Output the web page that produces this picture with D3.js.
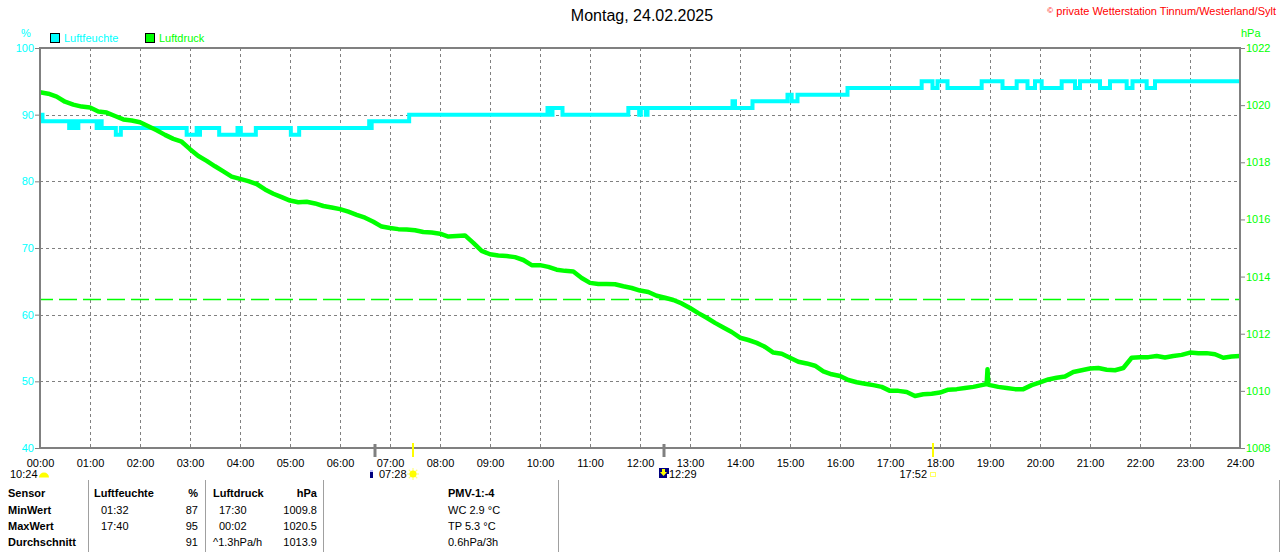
<!DOCTYPE html>
<html>
<head>
<meta charset="utf-8">
<script src="https://cdn.jsdelivr.net/npm/d3@7"></script>
<style>
  html, body { margin: 0; padding: 0; background: #fff; }
  svg { display: block; font-family: "Liberation Sans", Arial, sans-serif; }
</style>
</head>
<body>
<svg id="chart" width="1280" height="552"></svg>
<script>
// ---------------- DATA ----------------
const title = "Montag, 24.02.2025";
const copyright = "private Wetterstation Tinnum/Westerland/Sylt";
const seriesNames = ["Luftfeuchte", "Luftdruck"];

const hourTicks = ["00:00","01:00","02:00","03:00","04:00","05:00","06:00","07:00","08:00","09:00","10:00","11:00","12:00",
  "13:00","14:00","15:00","16:00","17:00","18:00","19:00","20:00","21:00","22:00","23:00","24:00"];
const humTicks = [40, 50, 60, 70, 80, 90, 100];
const pressTicks = [1008, 1010, 1012, 1014, 1016, 1018, 1020, 1022];
const pressReference = 1013.2;

// Luftfeuchte (step values, %)
const humTimes = ["00:00","00:03","00:35","00:39","00:43","00:46","01:08","01:11","01:14","01:31","01:37","02:56",
  "03:08","03:10","03:12","03:35","03:57","04:01","04:19","05:01","05:11","06:35","06:37","06:38","07:23",
  "10:09","10:13","10:15","10:27","11:46","11:59","12:01","12:07","12:09","13:51","13:54","14:15","14:57","15:02",
  "15:09","16:09","17:38","17:51","17:57","18:09","18:50","19:15","19:32","19:45","19:54","20:02","20:26","20:42",
  "20:48","21:12","21:24","21:44","21:51","22:08","22:18","24:00"];
const humValues = [90,89,88,89,88,89,88,89,88,87,88,87,
  88,87,88,87,88,87,88,87,88,89,88,89,90,
  91,90,91,90,91,90,91,90,91,92,91,92,93,92,
  93,94,95,94,95,94,95,94,95,94,95,94,95,94,
  95,94,95,94,95,94,95,95];

// Luftdruck (hPa)
const pressTimes = ["00:00","00:10","00:20","00:30","00:40","00:50","01:00","01:10","01:20","01:30","01:40","01:50",
  "02:00","02:10","02:20","02:30","02:40","02:50","03:00","03:10","03:20","03:30","03:40","03:50",
  "04:00","04:10","04:20","04:30","04:40","04:50","05:00","05:10","05:20","05:30","05:40","05:50",
  "06:00","06:10","06:20","06:30","06:40","06:50","07:00","07:10","07:20","07:30","07:40","07:50",
  "08:00","08:10","08:20","08:30","08:40","08:50","09:00","09:10","09:20","09:30","09:40","09:50",
  "10:00","10:10","10:20","10:30","10:40","10:50","11:00","11:10","11:20","11:30","11:40","11:50",
  "12:00","12:10","12:20","12:30","12:40","12:50","13:00","13:10","13:20","13:30","13:40","13:50",
  "14:00","14:10","14:20","14:30","14:40","14:50","15:00","15:10","15:20","15:30","15:40","15:50",
  "16:00","16:10","16:20","16:30","16:40","16:50","17:00","17:10","17:20","17:30","17:40","17:50",
  "18:00","18:10","18:20","18:30","18:40","18:50","18:56","18:57","18:58","19:00","19:10","19:20","19:30","19:40","19:50",
  "20:00","20:10","20:20","20:30","20:40","20:50","21:00","21:10","21:20","21:30","21:40","21:50",
  "22:00","22:10","22:20","22:30","22:40","22:50","23:00","23:10","23:20","23:30","23:40","23:50","24:00"];
const pressValues = [1020.45,1020.40,1020.30,1020.12,1020.02,1019.95,1019.92,1019.78,1019.74,1019.62,1019.50,1019.46,
  1019.40,1019.26,1019.12,1018.96,1018.82,1018.72,1018.46,1018.22,1018.05,1017.86,1017.68,1017.50,
  1017.42,1017.34,1017.24,1017.05,1016.90,1016.78,1016.66,1016.60,1016.62,1016.56,1016.47,1016.42,
  1016.36,1016.27,1016.16,1016.06,1015.92,1015.75,1015.70,1015.66,1015.65,1015.62,1015.56,1015.54,
  1015.50,1015.40,1015.42,1015.44,1015.18,1014.90,1014.78,1014.74,1014.72,1014.68,1014.58,1014.40,
  1014.40,1014.34,1014.24,1014.20,1014.18,1013.95,1013.78,1013.74,1013.74,1013.73,1013.66,1013.60,
  1013.51,1013.46,1013.33,1013.26,1013.18,1013.06,1012.90,1012.72,1012.56,1012.38,1012.22,1012.06,
  1011.86,1011.78,1011.68,1011.54,1011.34,1011.30,1011.16,1011.02,1010.96,1010.88,1010.68,1010.58,
  1010.52,1010.38,1010.30,1010.25,1010.20,1010.14,1010.00,1010.00,1009.96,1009.82,1009.88,1009.90,
  1009.94,1010.04,1010.06,1010.10,1010.14,1010.20,1010.24,1010.76,1010.22,1010.20,1010.14,1010.10,1010.06,1010.06,1010.20,
  1010.30,1010.40,1010.46,1010.50,1010.66,1010.72,1010.78,1010.80,1010.74,1010.72,1010.80,1011.16,
  1011.18,1011.18,1011.22,1011.17,1011.22,1011.26,1011.34,1011.32,1011.32,1011.28,1011.16,1011.20,1011.22];

// Astronomical markers below the axis
const moonTime = "10:24";
const dawnTime = "06:42";
const sunriseTime = "07:28";
const moonsetTime = "12:29";
const sunsetTime = "17:52";

// Statistics table
const tableHeader = ["Sensor", "Luftfeuchte", "%", "Luftdruck", "hPa", "PMV-1:-4"];
const rowLabels = ["MinWert", "MaxWert", "Durchschnitt"];
const humTimesCol = ["01:32", "17:40", ""];
const humValsCol = ["87", "95", "91"];
const pressTimesCol = ["17:30", "00:02", "^1.3hPa/h"];
const pressValsCol = ["1009.8", "1020.5", "1013.9"];
const pmvCol = ["WC 2.9 °C", "TP 5.3 °C", "0.6hPa/3h"];

// ---------------- DRAW ----------------
const svg = d3.select("#chart");
const toMin = s => { const [h, m] = s.split(":").map(Number); return h * 60 + m; };

const L = 40, R = 1240, T = 48, B = 448;
const x = d3.scaleLinear().domain([0, 1440]).range([L, R]);
const yH = d3.scaleLinear().domain([40, 100]).range([B, T]);
const yP = d3.scaleLinear().domain([1008, 1022]).range([B, T]);

const CYAN = "#00ffff", GREEN = "#00ff00", GRAY = "#808080";

// grid
const grid = svg.append("g");
grid.selectAll("line.v").data(hourTicks.slice(1, -1)).join("line")
  .attr("x1", d => x(toMin(d)) + 0.5).attr("x2", d => x(toMin(d)) + 0.5)
  .attr("y1", T).attr("y2", B)
  .attr("stroke", GRAY).attr("stroke-width", 1).attr("stroke-dasharray", "3,3");
grid.selectAll("line.h").data(humTicks.slice(1, -1)).join("line")
  .attr("x1", L).attr("x2", R)
  .attr("y1", d => Math.round(yH(d)) + 0.5).attr("y2", d => Math.round(yH(d)) + 0.5)
  .attr("stroke", GRAY).attr("stroke-width", 1).attr("stroke-dasharray", "3,3");

// reference pressure line
svg.append("line")
  .attr("x1", L + 1).attr("x2", R)
  .attr("y1", Math.round(yP(pressReference)) + 0.5).attr("y2", Math.round(yP(pressReference)) + 0.5)
  .attr("stroke", GREEN).attr("stroke-width", 1.3)
  .attr("stroke-dasharray", "18,6").attr("stroke-dashoffset", 6);

// humidity line (step)
const humData = humTimes.map((t, i) => [toMin(t), humValues[i]]);
svg.append("path")
  .datum(humData)
  .attr("fill", "none").attr("stroke", CYAN).attr("stroke-width", 4)
  .attr("d", d3.line().x(d => x(d[0])).y(d => yH(d[1])).curve(d3.curveStepAfter));

// pressure line
const pressData = pressTimes.map((t, i) => [toMin(t), pressValues[i]]);
svg.append("path")
  .datum(pressData)
  .attr("fill", "none").attr("stroke", GREEN).attr("stroke-width", 4.5)
  .attr("stroke-linejoin", "round")
  .attr("d", d3.line().x(d => x(d[0])).y(d => yP(d[1])));

// frame
svg.append("rect")
  .attr("x", L).attr("y", T).attr("width", R - L).attr("height", B - T)
  .attr("fill", "none").attr("stroke", GRAY).attr("stroke-width", 2);

// axes
const axL = svg.append("g").attr("transform", `translate(${L},0)`)
  .call(d3.axisLeft(yH).tickValues(humTicks).tickSize(5).tickPadding(1).tickFormat(d3.format("d")));
axL.select(".domain").remove();
axL.selectAll("line").attr("stroke", GRAY);
axL.selectAll("text").attr("fill", CYAN).attr("font-size", 11).attr("font-family", "Liberation Sans, Arial, sans-serif");

const axR = svg.append("g").attr("transform", `translate(${R},0)`)
  .call(d3.axisRight(yP).tickValues(pressTicks).tickSize(5).tickPadding(1).tickFormat(d3.format("d")));
axR.select(".domain").remove();
axR.selectAll("line").attr("stroke", GRAY);
axR.selectAll("text").attr("fill", GREEN).attr("font-size", 11).attr("font-family", "Liberation Sans, Arial, sans-serif");

const axB = svg.append("g").attr("transform", `translate(0,${B})`)
  .call(d3.axisBottom(x).tickValues(hourTicks.map(toMin)).tickSize(0).tickPadding(11)
    .tickFormat((d, i) => hourTicks[i]));
axB.select(".domain").remove();
axB.selectAll("text").attr("fill", "#000").attr("font-size", 11).attr("font-family", "Liberation Sans, Arial, sans-serif");

// title & labels
svg.append("text").attr("x", 642).attr("y", 21).attr("text-anchor", "middle")
  .attr("font-size", 16).attr("fill", "#000").text(title);
const cp = svg.append("text").attr("x", 1276).attr("y", 15).attr("text-anchor", "end")
  .attr("font-size", 11).attr("fill", "#ff0000");
cp.append("tspan").attr("font-size", 8).attr("dy", -2).text("©");
cp.append("tspan").attr("dy", 2).text(" " + copyright);

svg.append("text").attr("x", 26).attr("y", 37).attr("text-anchor", "middle")
  .attr("font-size", 11).attr("fill", CYAN).text("%");
svg.append("text").attr("x", 1241).attr("y", 37)
  .attr("font-size", 11).attr("fill", GREEN).text("hPa");

// legend
const legendX = [50, 145];
const legendColors = [CYAN, GREEN];
seriesNames.forEach((n, i) => {
  svg.append("rect").attr("x", legendX[i] + 0.5).attr("y", 33.5).attr("width", 9).attr("height", 9)
    .attr("fill", legendColors[i]).attr("stroke", "#000").attr("stroke-width", 1);
  svg.append("text").attr("x", legendX[i] + 14).attr("y", 42).attr("font-size", 11)
    .attr("fill", legendColors[i]).text(n);
});

// astronomical markers
const mk = svg.append("g");
[[dawnTime, GRAY, 3], [moonsetTime, GRAY, 3]].forEach(([t, c, w]) => {
  const xx = Math.round(x(toMin(t)));
  mk.append("line").attr("x1", xx).attr("x2", xx).attr("y1", 444).attr("y2", 457)
    .attr("stroke", c).attr("stroke-width", w);
});
[sunriseTime, sunsetTime].forEach(t => {
  const xx = Math.round(x(toMin(t)));
  mk.append("line").attr("x1", xx).attr("x2", xx).attr("y1", 443).attr("y2", 457)
    .attr("stroke", "#ffff00").attr("stroke-width", 2);
});
// moon phase time
mk.append("text").attr("x", 10).attr("y", 478).attr("font-size", 11).text(moonTime);
mk.append("path").attr("d", "M39,477.5 A5,5 0 0 1 49,477.5 Z").attr("fill", "#ffff00");
// dawn icon + sunrise
mk.append("rect").attr("x", 370).attr("y", 470).attr("width", 3).attr("height", 8).attr("fill", "#000080");
mk.append("rect").attr("x", 370).attr("y", 470).attr("width", 3).attr("height", 2).attr("fill", "#c0c0ff");
mk.append("text").attr("x", 379).attr("y", 478).attr("font-size", 11).text(sunriseTime);
const sx = Math.round(x(toMin(sunriseTime))), sy = 474;
for (let a = 0; a < 8; a++) {
  const ang = a * Math.PI / 4;
  mk.append("line").attr("x1", sx + Math.cos(ang) * 3).attr("y1", sy + Math.sin(ang) * 3)
    .attr("x2", sx + Math.cos(ang) * 6).attr("y2", sy + Math.sin(ang) * 6)
    .attr("stroke", "#ffff80").attr("stroke-width", 1.2);
}
mk.append("circle").attr("cx", sx).attr("cy", sy).attr("r", 3.5).attr("fill", "#ffff00");
// moonset icon
const mx = Math.round(x(toMin(moonsetTime)));
mk.append("rect").attr("x", mx - 5).attr("y", 468).attr("width", 10).attr("height", 10).attr("fill", "#000080");
mk.append("path").attr("d", `M${mx - 2},469 h3 v3 h2 l-3.5,4 l-3.5,-4 h2 z`).attr("fill", "#ffff00");
mk.append("rect").attr("x", mx + 3).attr("y", 474).attr("width", 2).attr("height", 4).attr("fill", "#ffffff");
mk.append("text").attr("x", mx + 5).attr("y", 478).attr("font-size", 11).text(moonsetTime);
// sunset
const ssx = Math.round(x(toMin(sunsetTime)));
mk.append("text").attr("x", ssx - 6).attr("y", 478).attr("text-anchor", "end").attr("font-size", 11).text(sunsetTime);
mk.append("rect").attr("x", ssx - 2.5).attr("y", 472.5).attr("width", 5).attr("height", 4)
  .attr("fill", "none").attr("stroke", "#ffff60").attr("stroke-width", 1);

// table
const tb = svg.append("g").attr("font-size", 11).attr("fill", "#000");
[88.5, 205.5, 323.5, 558.5, 1279.5].forEach(sx2 => {
  tb.append("line").attr("x1", sx2).attr("x2", sx2).attr("y1", 480).attr("y2", 552)
    .attr("stroke", "#a0a0a0").attr("stroke-width", 1);
});
const rowY = [497, 514, 530, 546];
const hdr = tb.append("g").attr("font-weight", "bold");
hdr.append("text").attr("x", 8).attr("y", rowY[0]).text(tableHeader[0]);
hdr.append("text").attr("x", 94).attr("y", rowY[0]).text(tableHeader[1]);
hdr.append("text").attr("x", 198).attr("y", rowY[0]).attr("text-anchor", "end").text(tableHeader[2]);
hdr.append("text").attr("x", 213).attr("y", rowY[0]).text(tableHeader[3]);
hdr.append("text").attr("x", 317).attr("y", rowY[0]).attr("text-anchor", "end").text(tableHeader[4]);
hdr.append("text").attr("x", 448).attr("y", rowY[0]).text(tableHeader[5]);
rowLabels.forEach((r, i) => {
  const yy = rowY[i + 1];
  tb.append("text").attr("x", 8).attr("y", yy).attr("font-weight", "bold").text(r);
  tb.append("text").attr("x", 101).attr("y", yy).text(humTimesCol[i]);
  tb.append("text").attr("x", 198).attr("y", yy).attr("text-anchor", "end").text(humValsCol[i]);
  tb.append("text").attr("x", pressTimesCol[i].startsWith("^") ? 213 : 219).attr("y", yy).text(pressTimesCol[i]);
  tb.append("text").attr("x", 317).attr("y", yy).attr("text-anchor", "end").text(pressValsCol[i]);
  tb.append("text").attr("x", 448).attr("y", yy).text(pmvCol[i]);
});
</script>
</body>
</html>
